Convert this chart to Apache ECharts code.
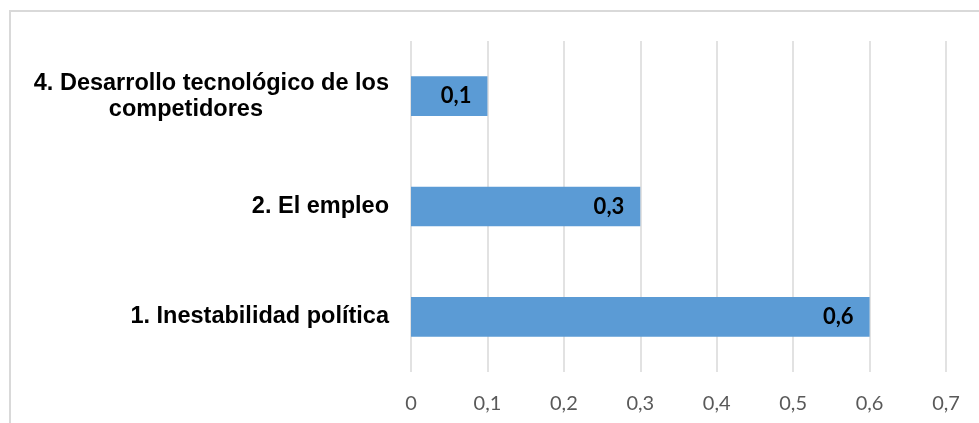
<!DOCTYPE html>
<html>
<head>
<meta charset="utf-8">
<script src="https://cdn.jsdelivr.net/npm/echarts@6/dist/echarts.min.js"></script>
<style>
  html, body { margin: 0; padding: 0; background: #fff; }
  #chart { width: 979px; height: 423px; }
</style>
</head>
<body>
<div id="chart"></div>
<script>
// Factors, bottom to top on the category axis
const categories = [
  '1. Inestabilidad política',
  '2. El empleo',
  '4. Desarrollo tecnológico de los\ncompetidores'
];
const values = [0.6, 0.3, 0.1];
const axisMax = 0.7;
const axisStep = 0.1;

// Decimal comma, as in the Spanish locale
function fmt(v) {
  if (v === 0) return '0';
  return (Math.round(v * 10) / 10).toFixed(1).replace('.', ',');
}

const chart = echarts.init(document.getElementById('chart'), null, { renderer: 'canvas' });

const catFont = { fontFamily: 'Liberation Sans', fontWeight: 'bold', fontSize: 23.5, lineHeight: 26, color: '#000' };

chart.setOption({
  animation: false,
  backgroundColor: '#ffffff',
  graphic: [{
    type: 'rect',
    shape: { x: 10, y: 11, width: 1000, height: 450 },
    style: { fill: 'none', stroke: '#d9d9d9', lineWidth: 2 },
    silent: true
  }],
  grid: { left: 411, right: 33, top: 41, bottom: 51, containLabel: false },
  xAxis: {
    type: 'value',
    min: 0,
    max: axisMax,
    interval: axisStep,
    axisLine: { show: false },
    axisTick: { show: false },
    splitLine: { show: true, lineStyle: { color: '#d9d9d9', width: 1.5 } },
    axisLabel: {
      formatter: fmt,
      color: '#595959',
      fontFamily: 'Lato',
      fontSize: 20,
      margin: 22
    }
  },
  yAxis: {
    type: 'category',
    data: categories,
    axisLine: { show: false },
    axisTick: { show: false },
    splitLine: { show: false },
    axisLabel: Object.assign({
      margin: 22,
      formatter: function (v) {
        const parts = v.split('\n');
        if (parts.length === 1) return v;
        return '{a|' + parts[0] + '}\n{b|' + parts[1] + '}';
      },
      rich: {
        a: Object.assign({}, catFont),
        b: Object.assign({ align: 'center', padding: [0, 51, 0, 0] }, catFont)
      }
    }, catFont)
  },
  series: [{
    type: 'bar',
    data: values,
    barWidth: '36%',
    itemStyle: { color: '#5b9bd5' },
    label: {
      show: true,
      position: 'insideRight',
      distance: 16,
      formatter: function (p) { return fmt(p.value); },
      color: '#000000',
      fontFamily: 'Lato',
      fontWeight: 'bold',
      fontSize: 22
    }
  }]
});
</script>
</body>
</html>
